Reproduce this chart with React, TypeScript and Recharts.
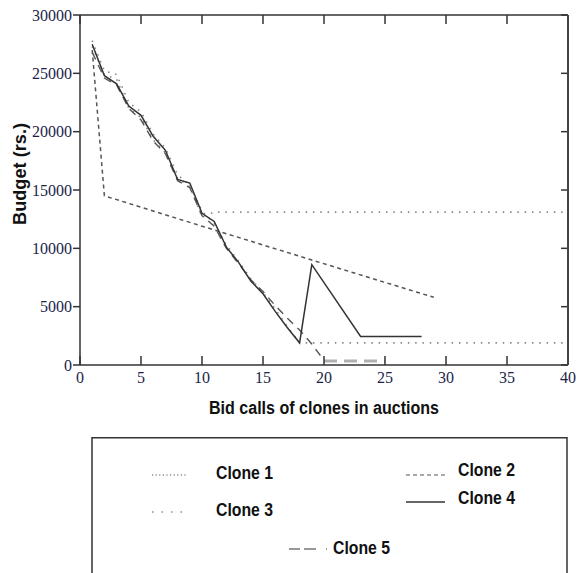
import { Line, LineChart, ReferenceLine, XAxis, YAxis } from "recharts";

// bid call index for each clone, and the budget left after that call
const clone1Calls = [1, 2, 3, 4, 5, 6, 7, 8, 9, 10, 11, 40];
const clone1Budget = [27300, 24900, 24500, 22000, 21200, 19300, 18200, 16000, 15300, 12700, 13100, 13100];

const clone2Calls = [1, 2, 10, 19, 29];
const clone2Budget = [27000, 14500, 11900, 9000, 5800];

const clone3Calls = [1, 2, 3, 4, 5, 6, 7, 8, 9, 10, 11, 12, 13, 14, 15, 16, 17, 18, 40];
const clone3Budget = [27800, 25200, 24900, 22500, 21700, 19800, 18600, 16300, 15400, 13200, 12100, 10300, 8900, 7400, 6200, 4800, 3300, 1900, 1900];

const clone4Calls = [1, 2, 3, 4, 5, 6, 7, 8, 9, 10, 11, 12, 13, 14, 15, 16, 17, 18, 19, 23, 28];
const clone4Budget = [27500, 24800, 24100, 22200, 21400, 19600, 18400, 15900, 15600, 13000, 12300, 10100, 8800, 7200, 6100, 4600, 3200, 1900, 8600, 2450, 2450];

const clone5Calls = [1, 2, 3, 4, 5, 6, 7, 8, 9, 10, 11, 12, 13, 14, 15, 16, 17, 18, 19, 20];
const clone5Budget = [26800, 24600, 24000, 22000, 21000, 19200, 18100, 15800, 15200, 12800, 11900, 10000, 8700, 7300, 6300, 5100, 4000, 3000, 1800, 400];
const clone5TailCalls = [20, 25];
const clone5TailBudget = [350, 350];

const xTicks = [0, 5, 10, 15, 20, 25, 30, 35, 40];
const yTicks = [0, 5000, 10000, 15000, 20000, 25000, 30000];

const X_MAX = 40;
const Y_MAX = 30000;
// inward tick lengths on the top / right frame, in data units (~9px and ~7px)
const TOP_TICK = 770;
const RIGHT_TICK = 0.57;

const toPoints = (calls: number[], budget: number[]) =>
  calls.map((c, i) => ({ calls: c, budget: budget[i] }));

const AXIS = "#333";
const TICK_FONT = "Liberation Serif";
const BOLD_FONT = "Liberation Sans";
const TICK_FILL = "#1c1f4a";

// bold labels in the original are condensed; squeeze them with textLength
function BoldText({ x, y, w, children, anchor = "start", rotate }: any) {
  return (
    <text
      x={x}
      y={y}
      dy="0.35em"
      textAnchor={anchor}
      textLength={w}
      lengthAdjust="spacingAndGlyphs"
      transform={rotate ? `rotate(${rotate}, ${x}, ${y})` : undefined}
      fontFamily={BOLD_FONT}
      fontWeight="bold"
      fontSize={18}
      fill="#111"
    >
      {children}
    </text>
  );
}

const tickText = { fontFamily: TICK_FONT, fontSize: 16, fill: TICK_FILL };

export default function App() {
  return (
    <div style={{ position: "absolute", left: 0, top: 0, width: 579, height: 573, overflow: "hidden", background: "#fff", fontFamily: TICK_FONT }}>
      <LineChart width={579} height={573} margin={{ top: 14, right: 10, bottom: 148, left: 0 }}>
        <XAxis
          dataKey="calls"
          type="number"
          domain={[0, X_MAX]}
          ticks={xTicks}
          interval={0}
          tickSize={-9}
          tickMargin={16}
          height={60}
          axisLine={{ stroke: AXIS, strokeWidth: 1.5 }}
          tickLine={{ stroke: AXIS, strokeWidth: 1.5 }}
          tick={tickText}
          label={(props: any) => {
            const vb = props.viewBox;
            return (
              <BoldText x={vb.x + vb.width / 2} y={408} w={230} anchor="middle">
                Bid calls of clones in auctions
              </BoldText>
            );
          }}
        />
        <XAxis
          xAxisId="top"
          orientation="top"
          dataKey="calls"
          type="number"
          domain={[0, X_MAX]}
          ticks={xTicks}
          interval={0}
          tickSize={-9}
          height={1}
          axisLine={{ stroke: AXIS, strokeWidth: 1.5 }}
          tickLine={{ stroke: AXIS, strokeWidth: 1.5 }}
          tick={false}
        />
        <YAxis
          type="number"
          domain={[0, Y_MAX]}
          ticks={yTicks}
          interval={0}
          width={80}
          tickSize={7}
          tickMargin={1}
          axisLine={{ stroke: AXIS, strokeWidth: 1.5 }}
          tickLine={{ stroke: AXIS, strokeWidth: 1.5 }}
          tick={tickText}
          label={() => (
            <BoldText x={20} y={174} w={102} anchor="middle" rotate={-90}>
              Budget (rs.)
            </BoldText>
          )}
        />
        <YAxis
          yAxisId="right"
          orientation="right"
          type="number"
          domain={[0, Y_MAX]}
          ticks={yTicks}
          interval={0}
          width={1}
          tickSize={-7}
          axisLine={{ stroke: "#444", strokeWidth: 2 }}
          tickLine={{ stroke: AXIS, strokeWidth: 1.5 }}
          tick={false}
        />
        {xTicks.map((t) => (
          <ReferenceLine
            key={`tx${t}`}
            segment={[{ x: t, y: Y_MAX }, { x: t, y: Y_MAX - TOP_TICK }]}
            stroke={AXIS}
            strokeWidth={1.5}
          />
        ))}
        {yTicks.map((t) => (
          <ReferenceLine
            key={`ty${t}`}
            segment={[{ x: X_MAX, y: t }, { x: X_MAX - RIGHT_TICK, y: t }]}
            stroke={AXIS}
            strokeWidth={1.5}
          />
        ))}
        <Line data={toPoints(clone2Calls, clone2Budget)} dataKey="budget" stroke="#555" strokeWidth={1.5} strokeDasharray="4 3.5" dot={false} isAnimationActive={false} />
        <Line data={toPoints(clone1Calls, clone1Budget)} xAxisId="top" yAxisId="right" dataKey="budget" stroke="#888" strokeWidth={1.6} strokeDasharray="1.5 5.8" dot={false} isAnimationActive={false} />
        <Line data={toPoints(clone3Calls, clone3Budget)} xAxisId="top" yAxisId="right" dataKey="budget" stroke="#888" strokeWidth={1.6} strokeDasharray="1.5 5.8" dot={false} isAnimationActive={false} />
        <Line data={toPoints(clone5TailCalls, clone5TailBudget)} dataKey="budget" stroke="#b0b0b0" strokeWidth={3} strokeDasharray="13 7" dot={false} isAnimationActive={false} />
        <Line data={toPoints(clone5Calls, clone5Budget)} dataKey="budget" stroke="#555" strokeWidth={1.4} strokeDasharray="8 6" dot={false} isAnimationActive={false} />
        <Line data={toPoints(clone4Calls, clone4Budget)} dataKey="budget" stroke="#333" strokeWidth={1.5} dot={false} isAnimationActive={false} />
      </LineChart>

      <svg width={579} height={136} style={{ position: "absolute", left: 0, top: 437 }}>
        <rect x={92} y={0.75} width={475} height={150} fill="none" stroke={AXIS} strokeWidth={1.5} />
        <line x1={152} x2={188} y1={38} y2={38} stroke="#555" strokeWidth={1.2} strokeDasharray="1.2 2.4" />
        <BoldText x={216} y={36} w={57}>Clone 1</BoldText>
        <line x1={152} x2={188} y1={75} y2={75} stroke="#555" strokeWidth={1.2} strokeDasharray="1.5 8" />
        <BoldText x={216} y={73} w={57}>Clone 3</BoldText>
        <line x1={406} x2={445} y1={38} y2={38} stroke="#555" strokeWidth={1.2} strokeDasharray="4 3" />
        <BoldText x={458} y={33} w={57}>Clone 2</BoldText>
        <line x1={406} x2={445} y1={65} y2={65} stroke="#333" strokeWidth={1.3} />
        <BoldText x={458} y={61} w={57}>Clone 4</BoldText>
        <line x1={289} x2={328} y1={112} y2={112} stroke="#333" strokeWidth={1.2} strokeDasharray="11 4 12 10 1 100" />
        <BoldText x={333} y={111} w={57}>Clone 5</BoldText>
      </svg>
    </div>
  );
}
